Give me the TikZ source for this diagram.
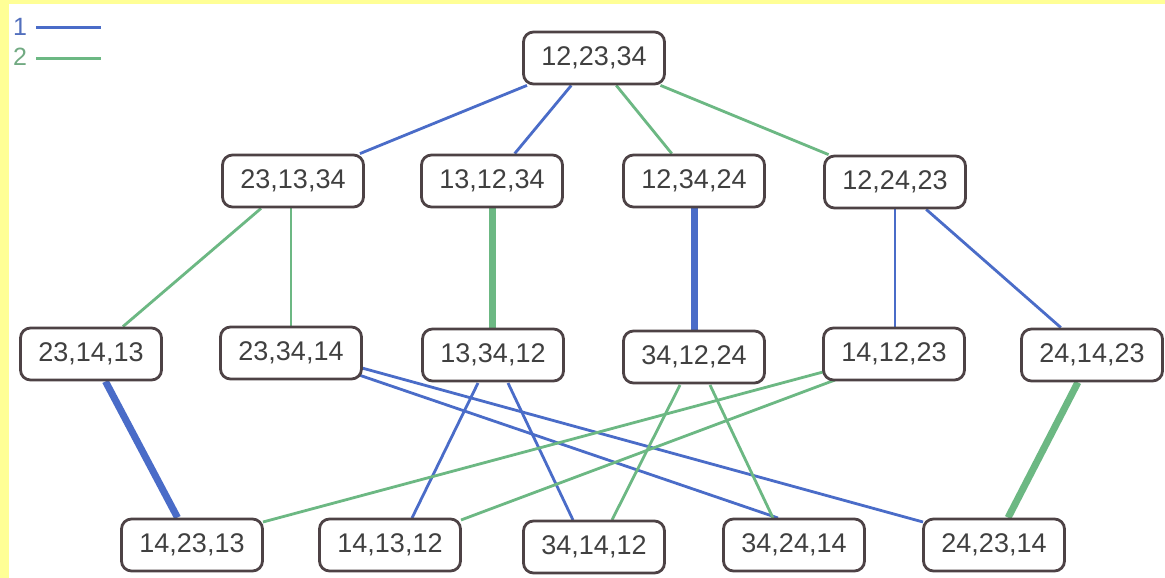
\documentclass[tikz,border=0pt]{standalone}
\usepackage{fontspec}
\setmainfont{Liberation Sans}
\usetikzlibrary{calc}
\definecolor{ylw}{RGB}{255,255,150}
\definecolor{eblue}{RGB}{74,108,200}
\definecolor{egreen}{RGB}{108,184,131}
\definecolor{bordergray}{RGB}{77,66,69}
\definecolor{txtgray}{RGB}{64,64,64}
\pgfdeclarelayer{bg}
\pgfdeclarelayer{edges}
\pgfsetlayers{bg,edges,main}
\tikzset{
 box/.style={draw=bordergray, line width=2.8pt, rounded corners=10pt, fill=white,
   minimum width=141pt, minimum height=52pt, inner sep=0pt, text=txtgray,
   font=\fontsize{27}{31}\selectfont},
 e1/.style={eblue, line width=2.8pt},
 e2/.style={egreen, line width=2.8pt},
 e1t/.style={eblue, line width=7pt},
 e2t/.style={egreen, line width=7pt},
 legendtext/.style={font=\fontsize{25}{29}\selectfont, inner sep=0pt, anchor=west}
}
\begin{document}
\begin{tikzpicture}[x=1pt,y=-1pt]
\useasboundingbox (0,0) rectangle (1165,578);
\begin{pgfonlayer}{bg}
\fill[ylw] (0,0) rectangle (1165,578);
\fill[white] (9,4) rectangle (1165,578);
\end{pgfonlayer}

% legend
\node[legendtext, text=eblue!85!gray] (l1) at (13,27) {1};
\node[legendtext, text=egreen!75!gray] (l2) at (13,57) {2};
\coordinate (l1a) at (36,28); \coordinate (l1b) at (101,28);
\coordinate (l2a) at (36,59); \coordinate (l2b) at (101,59);
\draw[e1, line width=3pt] (l1a) -- (l1b);
\draw[e2, line width=3pt] (l2a) -- (l2b);

% nodes
\node[box] (t) at (594,58) {12,23,34};

\node[box] (a1) at (293,181) {23,13,34};
\node[box] (a2) at (492,181) {13,12,34};
\node[box] (a3) at (694,181) {12,34,24};
\node[box] (a4) at (895,182) {12,24,23};

\node[box] (b1) at (91,354) {23,14,13};
\node[box] (b2) at (291,353) {23,34,14};
\node[box] (b3) at (493,355) {13,34,12};
\node[box] (b4) at (694,357) {34,12,24};
\node[box] (b5) at (894,354) {14,12,23};
\node[box] (b6) at (1092,355) {24,14,23};

\node[box] (c1) at (192,545) {14,23,13};
\node[box] (c2) at (390,545) {14,13,12};
\node[box] (c3) at (594,547) {34,14,12};
\node[box] (c4) at (794,545) {34,24,14};
\node[box] (c5) at (994,545) {24,23,14};

\begin{pgfonlayer}{edges}
\draw[e1] (t) -- (a1);
\draw[e1] (t) -- (a2);
\draw[e2] (t) -- (a3);
\draw[e2] (t) -- (a4);

\draw[e2] (a1) -- (b1);
\draw[e2] (a1.south -| b2) -- (b2);
\draw[e2t] (a2) -- (b3.north -| a2);
\draw[e1t] (a3) -- (b4.north -| a3);
\draw[e1] (a4) -- (b5.north -| a4);
\draw[e1] (a4) -- (b6);

\draw[e1t] (b1) -- (c1);
\draw[e2t] (b6) -- (c5);

\draw[e1] ($(b2)+(68,22)$) -- ($(c4)+(-16,-27)$);
\draw[e1] ($(b2)+(71,15)$) -- ($(c5)+(-71,-23)$);
\draw[e1] ($(b3)+(-15,28)$) -- ($(c2)+(22,-27)$);
\draw[e1] ($(b3)+(15,28)$) -- ($(c3)+(-21,-27)$);
\draw[e2] ($(b4)+(-14,28)$) -- ($(c3)+(18,-27)$);
\draw[e2] ($(b4)+(16,28)$) -- ($(c4)+(-21,-27)$);
\draw[e2] ($(b5)+(-71,18)$) -- ($(c1)+(71,-23)$);
\draw[e2] ($(b5)+(-59,26)$) -- ($(c2)+(71,-25)$);
\end{pgfonlayer}
\end{tikzpicture}
\end{document}
